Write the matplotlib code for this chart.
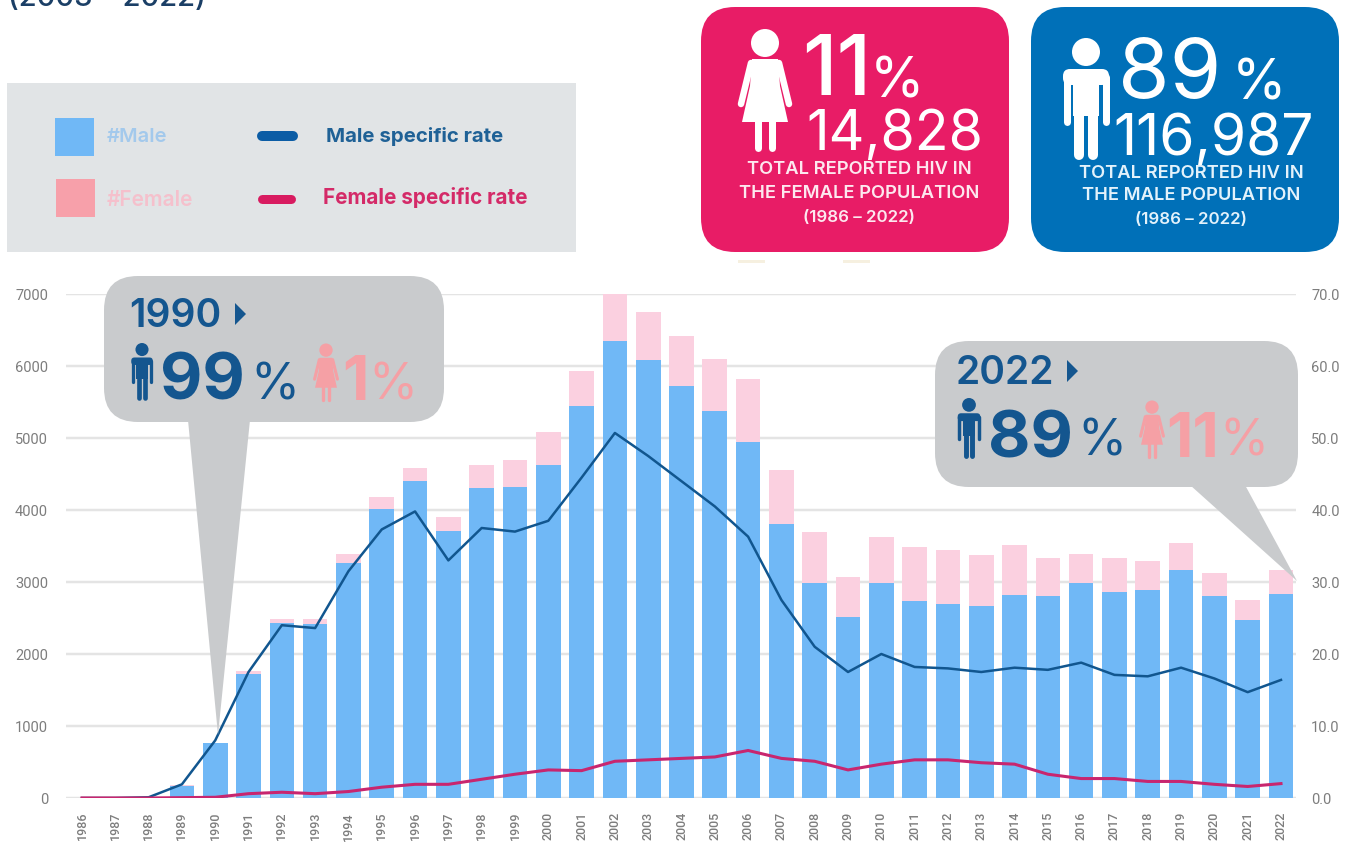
import matplotlib
matplotlib.use("Agg")
import matplotlib.pyplot as plt
from matplotlib.patches import FancyBboxPatch, Polygon, Circle, Rectangle
import numpy as np

W, H = 1356, 844
years = list(range(1986, 2023))
male = [0, 0, 5, 170, 760, 1720, 2430, 2420, 3270, 4020, 4400, 3710, 4310, 4320, 4620, 5450, 6350, 6080, 5720, 5380, 4940, 3800, 2980, 2510, 2980, 2730, 2690, 2660, 2820, 2800, 2980, 2860, 2890, 3160, 2800, 2470, 2830]
total = [0, 0, 5, 175, 765, 1770, 2490, 2480, 3390, 4180, 4580, 3900, 4620, 4690, 5090, 5930, 7000, 6750, 6420, 6100, 5820, 4550, 3700, 3070, 3630, 3480, 3440, 3380, 3510, 3330, 3390, 3340, 3290, 3540, 3130, 2750, 3160]
female = [t - m for t, m in zip(total, male)]
male_rate = [0, 0, 0.1, 1.9, 8.0, 17.5, 24.0, 23.6, 31.5, 37.3, 39.8, 33.0, 37.5, 37.0, 38.5, 44.5, 50.7, 47.5, 44.0, 40.5, 36.3, 27.5, 21.0, 17.5, 20.0, 18.2, 18.0, 17.5, 18.1, 17.8, 18.8, 17.1, 16.9, 18.1, 16.6, 14.7, 16.4]
female_rate = [0, 0, 0, 0.05, 0.1, 0.6, 0.8, 0.6, 0.9, 1.5, 1.9, 1.9, 2.6, 3.3, 3.9, 3.8, 5.1, 5.3, 5.5, 5.7, 6.6, 5.5, 5.1, 3.9, 4.7, 5.3, 5.3, 4.9, 4.7, 3.3, 2.7, 2.7, 2.3, 2.3, 1.9, 1.6, 2.0]
left_ticks = [0, 1000, 2000, 3000, 4000, 5000, 6000, 7000]
right_ticks = [0, 10, 20, 30, 40, 50, 60, 70]

C_MALE, C_FEM = "#70b8f6", "#fbd0e0"
C_ML, C_FL = "#11568f", "#c8266f"
GREY = "#7d7d7d"
FONT = "Inter"
PT = 0.72

fig = plt.figure(figsize=(W / 100, H / 100), dpi=100, facecolor="white")
ax = fig.add_axes([66 / W, 1 - 798 / H, (1296 - 66) / W, (798 - 294) / H])
ax.set_xlim(1986 - 16 / 33.3, 2022 + 15 / 33.3)
ax.set_ylim(0, 7000)
ax.bar(years, male, width=0.74, color=C_MALE, zorder=2)
ax.bar(years, female, bottom=male, width=0.74, color=C_FEM, zorder=2)
ax.set_yticks(left_ticks)
ax.grid(axis="y", color="#e4e4e4", lw=2.5 * PT, zorder=0)
ax.set_axisbelow(True)
for s in ax.spines.values():
    s.set_visible(False)
ax.set_xticks(years)
ax.set_xticklabels(years, rotation=90, fontsize=9, color=GREY, family="Roboto", fontweight="medium")
ax.tick_params(axis="x", length=0, pad=10)
ax.tick_params(axis="y", length=0, pad=13, labelsize=10.5, labelcolor=GREY)
for lb in ax.get_yticklabels():
    lb.set_family("Roboto")

ax2 = ax.twinx()
ax2.set_ylim(0, 70)
ax2.plot(years, male_rate, color=C_ML, lw=1.8, zorder=4)
ax2.plot(years, female_rate, color=C_FL, lw=2.2, zorder=5)
ax2.set_yticks(right_ticks)
ax2.set_yticklabels([f"{v:.1f}" for v in right_ticks], family="Roboto", fontsize=10.5, color=GREY)
ax2.tick_params(axis="y", length=0, pad=11)
for s in ax2.spines.values():
    s.set_visible(False)

ov = fig.add_axes([0, 0, 1, 1], facecolor="none")
ov.set_xlim(0, W)
ov.set_ylim(H, 0)
ov.axis("off")


def rbox(x0, y0, x1, y1, r, c):
    ov.add_patch(FancyBboxPatch((x0 + r, y0 + r), x1 - x0 - 2 * r, y1 - y0 - 2 * r,
                                boxstyle=f"round,pad={r},rounding_size={r}", fc=c, ec="none"))


def txt(x, y, s, size, c, weight="normal", ha="left", va="baseline", fam=FONT):
    ov.text(x, y, s, fontsize=size, color=c, fontweight=weight, ha=ha, va=va, family=fam)


def seg(x0, y0, x1, y1, w, c):
    ov.plot([x0, x1], [y0, y1], color=c, lw=w * PT, solid_capstyle="round")


def man(cx, top, h, c):
    u = h / 122
    ov.add_patch(Circle((cx, top + 14 * u), 14 * u, fc=c, ec="none"))
    rbox(cx - 23 * u, top + 31 * u, cx + 23 * u, top + 47 * u, 7 * u, c)
    ov.add_patch(Rectangle((cx - 13 * u, top + 33 * u), 26 * u, 45 * u, fc=c, ec="none"))
    seg(cx - 19.5 * u, top + 39 * u, cx - 19.5 * u, top + 84 * u, 7 * u, c)
    seg(cx + 19.5 * u, top + 39 * u, cx + 19.5 * u, top + 84 * u, 7 * u, c)
    seg(cx - 7 * u, top + 70 * u, cx - 7 * u, top + 117 * u, 10 * u, c)
    seg(cx + 7 * u, top + 70 * u, cx + 7 * u, top + 117 * u, 10 * u, c)


def woman(cx, top, h, c):
    u = h / 124
    ov.add_patch(Circle((cx, top + 15 * u), 14 * u, fc=c, ec="none"))
    ov.add_patch(Polygon([(cx - 13 * u, top + 31 * u), (cx + 13 * u, top + 31 * u),
                          (cx + 15 * u, top + 58 * u), (cx + 23 * u, top + 94 * u),
                          (cx - 23 * u, top + 94 * u), (cx - 15 * u, top + 58 * u)], fc=c, ec="none"))
    seg(cx - 14 * u, top + 35 * u, cx - 24 * u, top + 76 * u, 6.5 * u, c)
    seg(cx + 14 * u, top + 35 * u, cx + 24 * u, top + 76 * u, 6.5 * u, c)
    seg(cx - 7 * u, top + 92 * u, cx - 7 * u, top + 120 * u, 7 * u, c)
    seg(cx + 7 * u, top + 92 * u, cx + 7 * u, top + 120 * u, 7 * u, c)


# clipped heading at the top edge
txt(8, 6, "(2003 – 2022)", 21, "#1b3f66", weight="medium")

# legend panel
ov.add_patch(Rectangle((7, 83), 569, 169, fc="#e1e4e6", ec="none"))
ov.add_patch(Rectangle((55, 118), 39, 38, fc="#70b8f6", ec="none"))
ov.add_patch(Rectangle((56, 179), 39, 38, fc="#f7a0aa", ec="none"))
txt(107, 137, "#Male", 14.5, "#a3c9ec", weight="semibold", va="center")
txt(107, 200, "#Female", 15, "#f5c0cc", weight="semibold", va="center")
seg(262, 136, 293, 136, 10, "#0b5ca5")
seg(262, 199, 291, 199, 9, "#d81b60")
txt(326, 136, "Male specific rate", 14.7, "#1f6196", weight="bold", va="center")
txt(323, 197, "Female specific rate", 14.9, "#d42a68", weight="bold", va="center")

# stat cards
rbox(701, 7, 1009, 252, 34, "#e81c66")
rbox(1031, 7, 1339, 252, 34, "#0070b8")
ov.add_patch(Rectangle((738, 260), 27, 3, fc="#f6f0e0", ec="none"))
ov.add_patch(Rectangle((843, 260), 27, 3, fc="#f6f0e0", ec="none"))
woman(765, 28, 124, "white")
man(1086, 38, 122, "white")
txt(802, 95, "11", 60, "white", weight="medium")
txt(870, 98, "%", 40, "white")
txt(806, 150, "14,828", 40, "white")
txt(1118, 98, "89", 60, "white")
txt(1232, 100, "%", 40, "white")
txt(1113, 155, "116,987", 41, "white")
for cx, ys, lines in [(859, (170, 194, 217), ("TOTAL REPORTED HIV IN", "THE FEMALE POPULATION", "(1986 – 2022)")),
                      (1191, (173, 196, 219), ("TOTAL REPORTED HIV IN", "THE MALE POPULATION", "(1986 – 2022)"))]:
    for y, s, sz in zip(ys, lines, (13.2, 13.2, 12.2)):
        txt(cx, y, s, sz, "#fde8ef" if cx < 1000 else "#e3f2fb", weight="semibold", ha="center", va="center")

# callouts
BUB = "#c9cbcd"
rbox(104, 276, 444, 422, 34, BUB)
ov.add_patch(Polygon([(188, 420), (250, 420), (218, 735)], fc=BUB, ec="none"))
rbox(935, 341, 1298, 487, 34, BUB)
ov.add_patch(Polygon([(1190, 485), (1245, 485), (1297, 581)], fc=BUB, ec="none"))

NAVY, SALMON = "#14568f", "#f5a0a5"
txt(129, 327, "1990", 28, NAVY, weight="semibold")
ov.add_patch(Polygon([(235, 303), (246, 314), (235, 325)], fc=NAVY, ec="none"))
man(142, 343, 57, NAVY)
txt(160, 400, "99", 47, NAVY, weight="bold")
txt(250, 399, "%", 36, NAVY)
woman(326, 343, 59, SALMON)
txt(342, 400, "1", 44, SALMON, weight="bold")
txt(368, 399, "%", 36, SALMON)

txt(956, 384, "2022", 28, NAVY, weight="semibold")
ov.add_patch(Polygon([(1067, 360), (1078, 371), (1067, 382)], fc=NAVY, ec="none"))
man(969, 398, 60, NAVY)
txt(988, 457, "89", 47, NAVY, weight="bold")
txt(1077, 456, "%", 36, NAVY)
woman(1152, 400, 59, SALMON)
txt(1166, 457, "11", 44, SALMON, weight="bold")
txt(1219, 456, "%", 36, SALMON)

fig.savefig("out.png", dpi=100)
